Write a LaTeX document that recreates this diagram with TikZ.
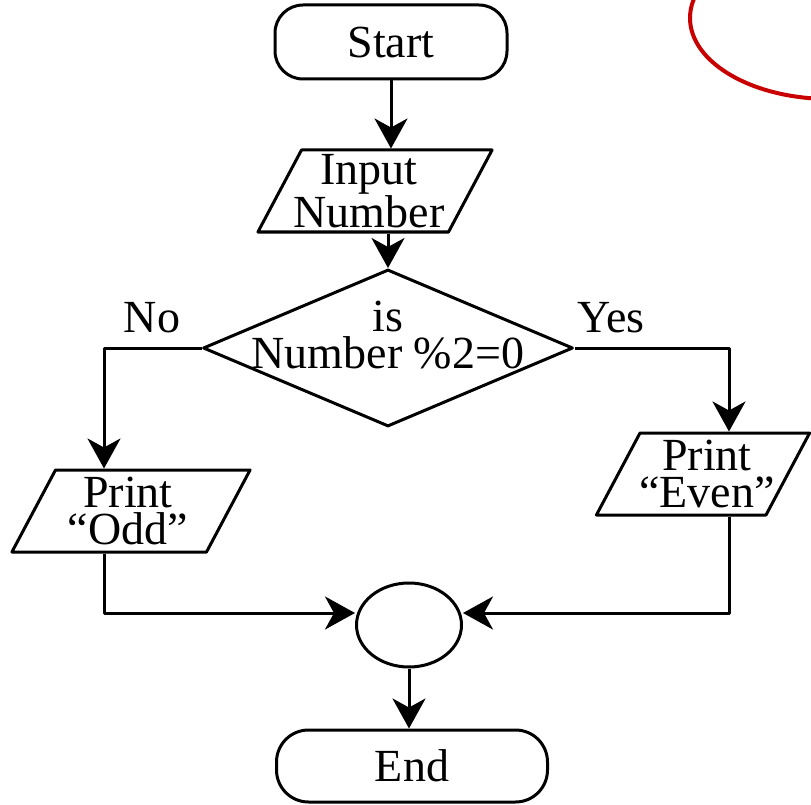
\documentclass[tikz,border=0pt]{standalone}
\usepackage{fontspec}
\setmainfont{Liberation Serif}
\usetikzlibrary{shapes.geometric,arrows.meta}
\definecolor{markred}{RGB}{200,0,0}
\tikzset{
	terminal/.style={draw, rectangle, rounded corners=28pt, inner sep=0pt},
	io/.style={draw, trapezium, trapezium left angle=62, trapezium right angle=118,
		inner ysep=41pt},
	decision/.style={draw, diamond, minimum width=370pt, minimum height=157pt, inner sep=0pt},
	junction/.style={draw, ellipse, minimum width=105pt, minimum height=84pt, inner sep=0pt},
	txt/.style={align=center, inner sep=0pt}
}
\begin{document}
\begin{tikzpicture}[x=1pt, y=1pt, >={Stealth[length=30pt,width=33pt,inset=9pt]},
	line width=3pt, line join=round, font=\fontsize{46}{37}\selectfont]
	\useasboundingbox (0,0) rectangle (811,-805);
	% boxes
	\node[terminal, minimum width=232pt, minimum height=74pt] (start) at (391,-42) {Start};
	\node[io, inner xsep=73.5pt] (input) at (375,-191) {};
	\node[txt] (inputtxt) at ([xshift=-6pt]input.center) {Input\\Number};
	\node[decision] (dec) at (388,-348) {};
	\node[txt] (dectxt) at ([yshift=13pt]dec.center) {is\\Number \%2=0};
	\node[io, inner xsep=75.5pt] (odd) at (131,-511) {};
	\node[txt] (oddtxt) at ([xshift=-3pt]odd.center) {Print\\“Odd”};
	\node[io, inner xsep=63pt] (even) at (703,-474) {};
	\node[txt] (eventxt) at ([xshift=4pt]even.center) {Print\\“Even”};
	\node[junction] (merge) at (409,-625) {};
	\node[terminal, minimum width=271pt, minimum height=72pt, rounded corners=32pt] (end) at (412,-766) {End};
	\node (nolbl) at (152,-318) {No};
	\node (yeslbl) at (611,-318) {Yes};
	\coordinate (nocorner) at (104,-348);
	\coordinate (yescorner) at (729,-348);
	\coordinate (oddcorner) at (104,-613);
	\coordinate (evencorner) at (729,-613);
	% arrows
	\draw[->] (start) -- (start |- input.north);
	\draw[->] (input.south -| dec.north) -- (dec.north);
	\draw[->] (dec.west) -- (nocorner) -- (nocorner |- odd.north);
	\draw[->] (dec.east) -- (yescorner) -- (yescorner |- even.north);
	\draw[->] (nocorner |- odd.south) -- (oddcorner) -- (oddcorner -| merge.west);
	\draw[->] (yescorner |- even.south) -- (evencorner) -- (evencorner -| merge.east);
	\draw[->] (merge) -- (merge |- end.north);
	% red mark
	\begin{scope}
		\clip (0,0) rectangle (811,-805);
		\draw[markred, line width=4pt] (830,-18) ellipse [x radius=140, y radius=81];
	\end{scope}
\end{tikzpicture}
\end{document}
